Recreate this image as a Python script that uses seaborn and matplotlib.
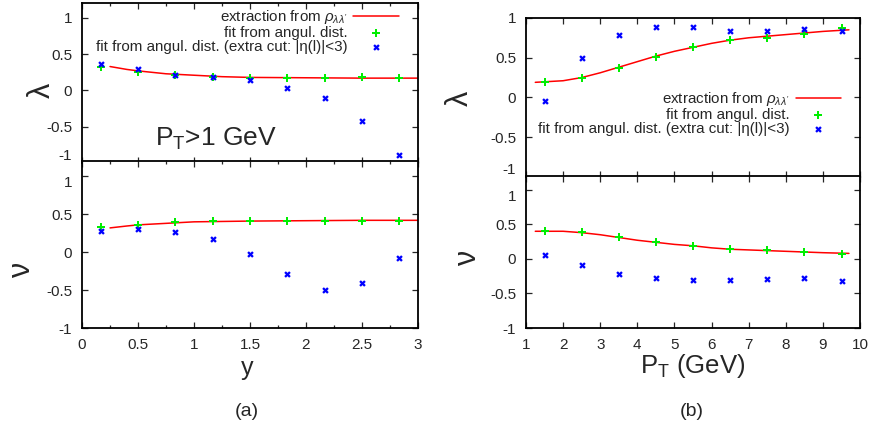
"""
Polarisation parameters lambda and nu vs rapidity (a) and vs P_T (b)
"""

import numpy as np
import pandas as pd
import matplotlib
matplotlib.use("Agg")
import matplotlib.pyplot as plt
from matplotlib.ticker import MultipleLocator
import seaborn as sns

# ─────────────────────────────────────────────
# Data
# ─────────────────────────────────────────────

# (a) vs rapidity y
y_bins = [0.167, 0.5, 0.833, 1.167, 1.5, 1.833, 2.167, 2.5, 2.833]
lam_y_fit = [0.33, 0.25, 0.22, 0.19, 0.17, 0.17, 0.17, 0.18, 0.17]
lam_y_cut = [0.36, 0.29, 0.22, 0.18, 0.14, 0.04, -0.10, -0.42, -0.89]
nu_y_fit = [0.33, 0.36, 0.40, 0.41, 0.41, 0.41, 0.41, 0.41, 0.41]
nu_y_cut = [0.28, 0.31, 0.27, 0.17, -0.02, -0.29, -0.50, -0.40, -0.08]

y_curve = [0.25, 0.4, 0.5, 0.75, 1.0, 1.25, 1.5, 2.0, 2.5, 3.0]
lam_y_curve = [0.33, 0.29, 0.27, 0.23, 0.21, 0.19, 0.18, 0.175, 0.17, 0.17]
nu_y_curve = [0.32, 0.345, 0.36, 0.38, 0.40, 0.405, 0.41, 0.415, 0.42, 0.42]

# (b) vs P_T
pt_bins = [1.5, 2.5, 3.5, 4.5, 5.5, 6.5, 7.5, 8.5, 9.5]
lam_pt_fit = [0.19, 0.25, 0.37, 0.51, 0.63, 0.72, 0.75, 0.80, 0.87]
lam_pt_cut = [-0.04, 0.49, 0.79, 0.89, 0.88, 0.84, 0.83, 0.86, 0.83]
nu_pt_fit = [0.41, 0.39, 0.31, 0.24, 0.19, 0.14, 0.13, 0.10, 0.07]
nu_pt_cut = [0.06, -0.09, -0.22, -0.28, -0.30, -0.31, -0.29, -0.28, -0.32]

pt_curve = [1.25, 2.0, 2.5, 3.0, 3.5, 4.0, 4.5, 5.0, 5.5, 6.0, 6.5, 7.0, 7.5, 8.0, 8.5, 9.0, 9.7]
lam_pt_curve = [0.19, 0.21, 0.25, 0.31, 0.38, 0.45, 0.52, 0.58, 0.63, 0.68, 0.72, 0.75, 0.77, 0.79, 0.81, 0.83, 0.85]
nu_pt_curve = [0.40, 0.40, 0.38, 0.35, 0.31, 0.27, 0.24, 0.21, 0.19, 0.16, 0.14, 0.13, 0.12, 0.11, 0.10, 0.09, 0.08]

LBL_CURVE = r"extraction from $\rho_{\lambda\lambda'}$"
LBL_FIT = "fit from angul. dist."
LBL_CUT = "fit from angul. dist. (extra cut: |η(l)|<3)"

RED = "#ff0000"
GREEN = "#00ee00"
BLUE = "#0000ff"

sns.set_theme(style="ticks")
plt.rcParams["font.family"] = ["Liberation Sans", "DejaVu Sans"]
plt.rcParams["mathtext.fontset"] = "custom"
plt.rcParams["mathtext.rm"] = "Liberation Sans"
plt.rcParams["mathtext.it"] = "Liberation Sans:italic"


def draw_panel(ax, xb, fit, cut, xc, curve):
    sns.lineplot(x=xc, y=curve, ax=ax, color=RED, linewidth=1.1, label=LBL_CURVE)
    sns.scatterplot(x=xb, y=fit, ax=ax, color=GREEN, marker="P", s=26,
                    linewidth=0, label=LBL_FIT, zorder=3)
    sns.scatterplot(x=xb, y=cut, ax=ax, color=BLUE, marker="X", s=22,
                    linewidth=0, label=LBL_CUT, zorder=4)
    ax.tick_params(direction="in", which="both", top=True, right=True,
                   labelsize=11, length=4, width=0.9, pad=7)
    ax.tick_params(which="minor", length=2.5)
    for sp in ax.spines.values():
        sp.set_linewidth(1.3)
        sp.set_color("black")


fig = plt.figure(figsize=(8.7, 4.3), dpi=100)

ax_a1 = fig.add_axes([0.0943, 0.621, 0.386, 0.371])
ax_a2 = fig.add_axes([0.0943, 0.2372, 0.386, 0.388])
ax_b1 = fig.add_axes([0.6046, 0.5884, 0.384, 0.370])
ax_b2 = fig.add_axes([0.6046, 0.2372, 0.384, 0.3535])

draw_panel(ax_a1, y_bins, lam_y_fit, lam_y_cut, y_curve, lam_y_curve)
draw_panel(ax_a2, y_bins, nu_y_fit, nu_y_cut, y_curve, nu_y_curve)
draw_panel(ax_b1, pt_bins, lam_pt_fit, lam_pt_cut, pt_curve, lam_pt_curve)
draw_panel(ax_b2, pt_bins, nu_pt_fit, nu_pt_cut, pt_curve, nu_pt_curve)

for ax in (ax_a1, ax_a2):
    ax.set_xlim(0, 3)
    ax.xaxis.set_major_locator(MultipleLocator(0.5))
    ax.xaxis.set_minor_locator(MultipleLocator(0.25))
for ax in (ax_b1, ax_b2):
    ax.set_xlim(1, 10)
    ax.xaxis.set_major_locator(MultipleLocator(1))

ax_a1.set_ylim(-1, 1.2)
ax_a2.set_ylim(-1, 1.2)
ax_b1.set_ylim(-1, 1)
ax_b2.set_ylim(-1, 1.2)

ytick_vals = [-1, -0.5, 0, 0.5, 1]
ytick_txt = ["-1", "-0.5", "0", "0.5", "1"]
for ax in (ax_a1, ax_a2, ax_b1, ax_b2):
    ax.set_yticks(ytick_vals)
    ax.set_yticklabels(ytick_txt)

# the stacked panels share a border: nudge the touching labels apart a little
for ax in (ax_a1, ax_b1):
    ax.get_yticklabels()[0].set_va("bottom")
for ax in (ax_a2, ax_b2):
    ax.get_yticklabels()[-1].set_va("top")

ax_a1.set_xticklabels([])
ax_b1.set_xticklabels([])
ax_a2.set_xticks([0, 0.5, 1, 1.5, 2, 2.5, 3])
ax_a2.set_xticklabels(["0", "0.5", "1", "1.5", "2", "2.5", "3"])
ax_b2.set_xticks(list(range(1, 11)))
ax_b2.set_xticklabels([str(v) for v in range(1, 11)])

for ax in (ax_a1, ax_a2, ax_b1, ax_b2):
    ax.set_xlabel("")
    ax.set_ylabel("")

# Legends
ax_a1.legend(loc="upper right", bbox_to_anchor=(0.975, 1.035), frameon=False,
             markerfirst=False, fontsize=10.9, handlelength=3.0, handletextpad=0.4,
             labelspacing=0.0, borderpad=0.2)
ax_b1.legend(loc="center right", bbox_to_anchor=(0.975, 0.40), frameon=False,
             markerfirst=False, fontsize=10.9, handlelength=3.0, handletextpad=0.4,
             labelspacing=0.0, borderpad=0.2)
ax_a2.get_legend().remove()
ax_b2.get_legend().remove()

# Axis symbols
fig.text(42 / 870, 1 - 90 / 430, "λ", fontsize=22, rotation=90, ha="center", va="center")
fig.text(22 / 870, 1 - 270 / 430, "ν", fontsize=22, rotation=90, ha="center", va="center")
fig.text(460 / 870, 1 - 98 / 430, "λ", fontsize=22, rotation=90, ha="center", va="center")
fig.text(468 / 870, 1 - 258 / 430, "ν", fontsize=22, rotation=90, ha="center", va="center")

ax_a1.text(0.4, 0.15, r"P$_\mathrm{T}$>1 GeV", transform=ax_a1.transAxes,
           fontsize=19, ha="center", va="center")

fig.text(247 / 870, 1 - 368 / 430, "y", fontsize=18, ha="center", va="center")
fig.text(693 / 870, 1 - 366 / 430, r"P$_\mathrm{T}$ (GeV)", fontsize=18.5,
         ha="center", va="center")
fig.text(247 / 870, 1 - 411 / 430, "(a)", fontsize=14, ha="center", va="center")
fig.text(692 / 870, 1 - 411 / 430, "(b)", fontsize=14, ha="center", va="center")

fig.savefig("out.png", dpi=100)
plt.close()
